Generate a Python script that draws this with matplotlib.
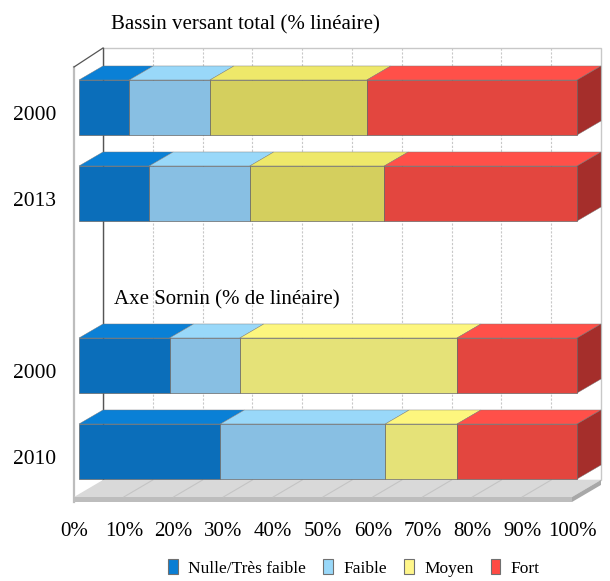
import numpy as np
import matplotlib
matplotlib.use("Agg")
import matplotlib.pyplot as plt
from matplotlib.patches import Polygon, Patch

# ---------------- data ----------------
categories = ["Nulle/Très faible", "Faible", "Moyen", "Fort"]
years = ["2000", "2013", "2000", "2010"]
group_titles = ["Bassin versant total (% linéaire)", "Axe Sornin (% de linéaire)"]
bassin_2000 = [10.1, 16.2, 31.5, 42.2]
bassin_2013 = [14.1, 20.2, 27.0, 38.7]
sornin_2000 = [18.2, 14.1, 43.6, 24.1]
sornin_2010 = [28.4, 33.1, 14.4, 24.1]
series = [bassin_2000, bassin_2013, sornin_2000, sornin_2010]
tick_values = list(range(0, 101, 10))
tick_labels = [f"{v}%" for v in tick_values]

# ---------------- style ----------------
positions = [0, 1, 3, 4]
group_of_bar = [0, 0, 1, 1]
bar_h = 0.64
front_cols = [
    ["#0B6EBA", "#88BFE3", "#D4CF5E", "#E3463F"],
    ["#0B6EBA", "#88BFE3", "#E5E278", "#E3463F"],
]
top_cols = [
    ["#0A80D6", "#99D8F9", "#EEE86A", "#FF5049"],
    ["#0A80D6", "#99D8F9", "#FDF67E", "#FF5049"],
]
side_col = "#A52E2B"
legend_cols = ["#0A7ED4", "#99D8F9", "#FFF68A", "#FF4A44"]

SERIF = ["Liberation Serif", "DejaVu Serif"]
plt.rcParams["font.family"] = SERIF

W, H = 610, 581
fig = plt.figure(figsize=(W / 100, H / 100), dpi=100)
ax = fig.add_axes([0, 0, 1, 1])
# pixel mapping: x_px = 79 + 4.98*x ; y_px = 107.5 + 86*pos
ax.set_xlim(-79 / 4.98, (W - 79) / 4.98)
ax.set_ylim((H - 107.5) / 86, -107.5 / 86)
ax.axis("off")

DX, DY = 24 / 4.98, -14 / 86          # bar depth
FX = -5 / 4.98                          # frame front offset
wall_top, floor_back, floor_front, floor_bot = -0.692, 4.331, 4.529, 4.587
side_top = -0.471

# back wall
ax.add_patch(Polygon([(DX, wall_top), (100 + DX, wall_top), (100 + DX, floor_back), (DX, floor_back)],
                     closed=True, fc="white", ec="#C8C8C8", lw=1.0, zorder=1))
for k in tick_values[1:-1]:
    ax.plot([k + DX, k + DX], [wall_top, floor_back], color="#C8C8C8", lw=0.8,
            ls=(0, (2, 1.5)), zorder=1.5)
# left side wall
ax.add_patch(Polygon([(FX, side_top), (DX, wall_top), (DX, floor_back), (FX, floor_front + 0.03)],
                     closed=True, fc="white", ec="none", zorder=1))
ax.plot([FX, FX], [side_top, floor_bot], color="#BDBDBD", lw=1.6, zorder=1.6)
ax.plot([FX, DX], [side_top, wall_top], color="#555555", lw=0.9, zorder=1.6)
ax.plot([DX, DX], [wall_top, floor_back], color="#555555", lw=1.0, zorder=1.6)
# floor
ax.add_patch(Polygon([(DX, floor_back), (100 + DX, floor_back), (100 + FX, floor_front), (FX, floor_front)],
                     closed=True, fc="#D9D9D9", ec="none", zorder=2))
ax.add_patch(Polygon([(FX, floor_front), (100 + FX, floor_front), (100 + FX, floor_bot), (FX, floor_bot)],
                     closed=True, fc="#BDBDBD", ec="none", zorder=2))
ax.add_patch(Polygon([(100 + FX, floor_front), (100 + DX, floor_back), (100 + DX, floor_back + 0.058),
                      (100 + FX, floor_bot)], closed=True, fc="#A8A8A8", ec="none", zorder=2))
for k in tick_values[1:-1]:
    ax.plot([k + DX, k + FX], [floor_back, floor_front], color="#C4C4C4", lw=0.8, zorder=2.1)

# bars
for vals, pos, g in zip(series, positions, group_of_bar):
    y0, y1 = pos - bar_h / 2, pos + bar_h / 2
    left = 0.0
    fronts = []
    for i, v in enumerate(vals):
        x0, x1 = left, left + v
        ax.add_patch(Polygon([(x0, y0), (x0 + DX, y0 + DY), (x1 + DX, y0 + DY), (x1, y0)],
                             closed=True, fc=top_cols[g][i], ec="#777777", lw=0.3, zorder=3))
        fronts.append((x0, x1, i))
        left = x1
    ax.add_patch(Polygon([(left, y0), (left + DX, y0 + DY), (left + DX, y1 + DY), (left, y1)],
                         closed=True, fc=side_col, ec="#777777", lw=0.3, zorder=3))
    for x0, x1, i in fronts:
        ax.add_patch(Polygon([(x0, y0), (x1, y0), (x1, y1), (x0, y1)],
                             closed=True, fc=front_cols[g][i], ec="#666666", lw=0.5, zorder=4))

# year labels
for yr, pos in zip(years, positions):
    ax.text(-8.84, pos + 0.09, yr, ha="center", va="center", fontsize=15.5, zorder=5)

# x tick labels (aligned with floor front edge)
for v, lab in zip(tick_values, tick_labels):
    ax.text(v + FX, (532 - 107.5) / 86, lab, ha="center", va="center", fontsize=15)

# titles
fig.text(245 / W, 1 - 25 / H, group_titles[0], ha="center", va="center", fontsize=15)
fig.text(227 / W, 1 - 300 / H, group_titles[1], ha="center", va="center", fontsize=15)

# legend
handles = [Patch(facecolor=c, edgecolor="#707070", lw=0.8) for c in legend_cols]
fig.legend(handles, categories, loc="center", bbox_to_anchor=(354 / W, 1 - 568 / H), ncol=4,
           frameon=False, fontsize=12.5, handlelength=0.55, handleheight=0.9,
           columnspacing=1.0, handletextpad=0.6, borderpad=0)

fig.savefig("out.png", dpi=100)
